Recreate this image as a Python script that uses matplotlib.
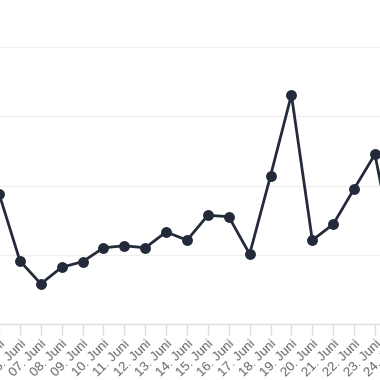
import matplotlib
matplotlib.use("Agg")
import matplotlib.pyplot as plt

days = ["05. Juni", "06. Juni", "07. Juni", "08. Juni", "09. Juni", "10. Juni",
        "11. Juni", "12. Juni", "13. Juni", "14. Juni", "15. Juni", "16. Juni",
        "17. Juni", "18. Juni", "19. Juni", "20. Juni", "21. Juni", "22. Juni",
        "23. Juni", "24. Juni"]
values = [188, 91, 58, 82, 90, 110, 113, 110, 133, 121, 157, 155, 101, 214,
          331, 121, 144, 195, 245, 92]
gridlines = [100, 200, 300, 400]

plt.rcParams['font.family'] = ['Liberation Sans', 'DejaVu Sans']

fig = plt.figure(figsize=(3.8, 3.8), dpi=100)
W = 380.0
left_px = -21.78
right_px = 416.7
ax = fig.add_axes([left_px / W, 56 / W, (right_px - left_px) / W, 324 / W])

x = list(range(len(days)))
ax.plot(x, values, color='#232b3b', linewidth=2, marker='o', markersize=6.8,
        zorder=3)

ax.set_xlim(-1, 20)
ax.set_ylim(0, 467.9)
ax.set_yticks(gridlines)
ax.yaxis.grid(True, color='#f0f0f0', linewidth=1)
ax.set_axisbelow(True)
ax.tick_params(axis='y', left=False, labelleft=False)

ax.set_xticks(x)
ax.set_xticklabels(days, rotation=45, ha='right', rotation_mode='anchor',
                   fontsize=9.5, color='#666666')
ax.tick_params(axis='x', length=8, width=1, color='#d8dde6', pad=2)

for s in ['top', 'right', 'left']:
    ax.spines[s].set_visible(False)
ax.spines['bottom'].set_color('#d8dde6')
ax.spines['bottom'].set_linewidth(1)

fig.savefig('out.png', dpi=100)
